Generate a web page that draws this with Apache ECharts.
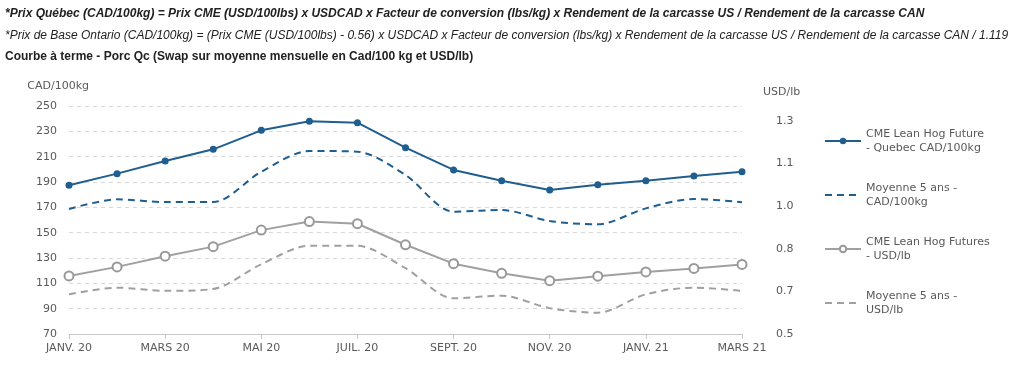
<!DOCTYPE html>
<html>
<head>
<meta charset="utf-8">
<script src="https://cdn.jsdelivr.net/npm/echarts@6/dist/echarts.min.js"></script>
<style>
  html, body { margin: 0; padding: 0; background: #fff; }
  #main { width: 1024px; height: 376px; }
</style>
</head>
<body>
<div id="main"></div>
<script>
// mois (un libellé sur deux affiché)
var mois = ['JANV. 20', 'FÉVR. 20', 'MARS 20', 'AVR. 20', 'MAI 20', 'JUIN 20', 'JUIL. 20', 'AOÛT 20',
  'SEPT. 20', 'OCT. 20', 'NOV. 20', 'DÉC. 20', 'JANV. 21', 'FÉVR. 21', 'MARS 21'];

// CAD/100kg (axe gauche)
var quebecCad = [187.5, 196.6, 206.6, 215.8, 230.8, 237.9, 236.8, 217.1, 199.5, 191.0, 183.7, 187.9, 191.0, 194.7, 198.1];
var moyenneCad = [168.7, 176.3, 174.2, 174.2, 198.1, 214.5, 213.9, 195.5, 166.6, 167.9, 159.2, 156.6, 169.2, 176.6, 174.0];

// USD/lb (axe droit)
var cmeUsd = [0.718, 0.752, 0.792, 0.828, 0.890, 0.922, 0.914, 0.835, 0.764, 0.728, 0.700, 0.717, 0.733, 0.746, 0.761];
var moyenneUsd = [0.649, 0.674, 0.662, 0.669, 0.762, 0.831, 0.831, 0.747, 0.634, 0.644, 0.597, 0.580, 0.649, 0.674, 0.662];

var legendeTextes = {
  'CME Lean Hog Future - Quebec CAD/100kg': 'CME Lean Hog Future\n- Quebec CAD/100kg',
  'Moyenne 5 ans - CAD/100kg': 'Moyenne 5 ans -\nCAD/100kg',
  'CME Lean Hog Futures - USD/lb': 'CME Lean Hog Futures\n- USD/lb',
  'Moyenne 5 ans - USD/lb': 'Moyenne 5 ans -\nUSD/lb'
};

var bleu = '#1f5e8e';
var gris = '#a0a0a0';
var texte = '#595959';
var police = 'DejaVu Sans';

var chart = echarts.init(document.getElementById('main'));

var option = {
  animation: false,
  graphic: [
    { type: 'text', left: 5, top: 8, style: { text: '*Prix Québec (CAD/100kg) = Prix CME (USD/100lbs) x USDCAD x Facteur de conversion (lbs/kg) x Rendement de la carcasse US / Rendement de la carcasse CAN',
      font: 'italic bold 12px "Liberation Sans"', fill: '#222' } },
    { type: 'text', left: 5, top: 30, style: { text: '*Prix de Base Ontario (CAD/100kg) = (Prix CME (USD/100lbs) - 0.56) x USDCAD x Facteur de conversion (lbs/kg) x Rendement de la carcasse US / Rendement de la carcasse CAN / 1.119',
      font: 'italic 12px "Liberation Sans"', fill: '#222' } },
    { type: 'text', left: 5, top: 51, style: { text: 'Courbe à terme - Porc Qc (Swap sur moyenne mensuelle en Cad/100 kg et USD/lb)',
      font: 'bold 12px "Liberation Sans"', fill: '#222' } }
  ],
  grid: { left: 69, right: 282, top: 106, bottom: 42 },
  legend: {
    orient: 'vertical',
    left: 819,
    top: 122,
    itemWidth: 36,
    itemHeight: 8,
    itemGap: 26,
    data: [
      { name: 'CME Lean Hog Future - Quebec CAD/100kg' },
      { name: 'Moyenne 5 ans - CAD/100kg', itemStyle: { opacity: 0 } },
      { name: 'CME Lean Hog Futures - USD/lb' },
      { name: 'Moyenne 5 ans - USD/lb', itemStyle: { opacity: 0 } }
    ],
    formatter: function (n) { return legendeTextes[n]; },
    textStyle: { color: texte, fontFamily: police, fontSize: 11, lineHeight: 14 }
  },
  xAxis: {
    type: 'category',
    data: mois,
    boundaryGap: false,
    axisLine: { lineStyle: { color: '#c8c8c8' } },
    axisTick: { show: true, length: 5, lineStyle: { color: '#c8c8c8' } },
    axisLabel: { interval: 1, color: texte, fontFamily: police, fontSize: 11, margin: 9 },
    splitLine: { show: false }
  },
  yAxis: [
    {
      type: 'value',
      name: 'CAD/100kg',
      nameGap: 14,
      nameTextStyle: { color: texte, fontFamily: police, fontSize: 11, align: 'right', padding: [0, -20, 0, 0] },
      min: 70, max: 250, interval: 20,
      axisLine: { show: false },
      axisTick: { show: false },
      axisLabel: { color: texte, fontFamily: police, fontSize: 11, margin: 12 },
      splitLine: { lineStyle: { color: '#d9d9d9', type: [4, 4] } }
    },
    {
      type: 'value',
      name: 'USD/lb',
      nameGap: 8,
      nameTextStyle: { color: texte, fontFamily: police, fontSize: 11, align: 'left', padding: [0, 0, 0, 21] },
      min: 0.5, max: 1.356, interval: 0.16,
      axisLine: { show: false },
      axisTick: { show: false },
      axisLabel: { color: texte, fontFamily: police, fontSize: 11, margin: 34, showMaxLabel: false,
        formatter: function (v) { return v.toFixed(1); } },
      splitLine: { show: false }
    }
  ],
  series: [
    {
      name: 'CME Lean Hog Future - Quebec CAD/100kg',
      type: 'line', yAxisIndex: 0, data: quebecCad,
      symbol: 'circle', symbolSize: 7,
      lineStyle: { color: bleu, width: 2 },
      itemStyle: { color: bleu }
    },
    {
      name: 'Moyenne 5 ans - CAD/100kg',
      type: 'line', yAxisIndex: 0, data: moyenneCad,
      smooth: 0.3, symbol: 'none',
      lineStyle: { color: bleu, width: 2, type: [7, 5] },
      itemStyle: { color: bleu }
    },
    {
      name: 'CME Lean Hog Futures - USD/lb',
      type: 'line', yAxisIndex: 1, data: cmeUsd,
      symbol: 'circle', symbolSize: 9,
      lineStyle: { color: gris, width: 2 },
      itemStyle: { color: '#fff', borderColor: '#999', borderWidth: 2 }
    },
    {
      name: 'Moyenne 5 ans - USD/lb',
      type: 'line', yAxisIndex: 1, data: moyenneUsd,
      smooth: 0.3, symbol: 'none',
      lineStyle: { color: gris, width: 2, type: [7, 5] },
      itemStyle: { color: gris }
    }
  ]
};

chart.setOption(option);
</script>
</body>
</html>
